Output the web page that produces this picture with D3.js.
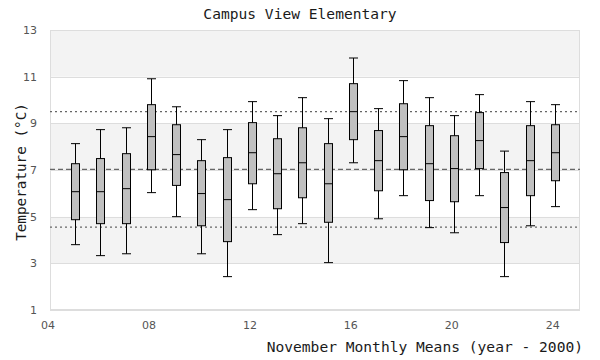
<!DOCTYPE html>
<html><head><meta charset="utf-8">
<script src="https://cdn.jsdelivr.net/npm/d3@7"></script>
<style>body{margin:0;background:#fff}svg{display:block}</style>
</head><body><svg id="c" width="600" height="360"></svg>
<script>
const years = [5,6,7,8,9,10,11,12,13,14,15,16,17,18,19,20,21,22,23,24];
const whiskerLow  = [3.80,3.33,3.41,6.03,5.00,3.41,2.43,5.30,4.23,4.70,3.03,7.31,4.91,5.90,4.53,4.31,5.90,2.43,4.61,5.43];
const q1          = [4.87,4.70,4.70,7.01,6.34,4.61,3.93,6.41,5.34,5.81,4.76,8.30,6.11,7.01,5.69,5.64,7.06,3.89,5.90,6.54];
const median      = [6.07,6.07,6.20,8.43,7.66,5.99,5.73,7.74,6.84,7.31,6.41,9.50,7.40,8.43,7.27,7.06,8.26,5.39,7.40,7.74];
const q3          = [7.27,7.49,7.70,9.80,8.94,7.40,7.53,9.03,8.34,8.81,8.13,10.70,8.69,9.84,8.90,8.47,9.46,6.89,8.90,8.94];
const whiskerHigh = [8.13,8.73,8.81,10.91,9.71,8.30,8.73,9.93,9.33,10.10,9.20,11.80,9.63,10.83,10.10,9.33,10.23,7.81,9.93,9.80];
const meanLine = 7.03, upperLine = 9.5, lowerLine = 4.55;
const xTicks = [4,8,12,16,20,24];
const yTicks = [1,3,5,7,9,11,13];
const title = "Campus View Elementary";
const xTitle = "November Monthly Means (year - 2000)";
const yTitle = "Temperature (°C)";

const svg = d3.select("#c");
const L=50,R=580,T=30,B=310;
const x = d3.scaleLinear().domain([4,25]).range([L,R]);
const y = d3.scaleLinear().domain([1,13]).range([B,T]);
const mono = "'DejaVu Sans Mono', monospace";
const sans = "'DejaVu Sans', sans-serif";

// bands
for (let i=0;i<yTicks.length-1;i++){
  const a=yTicks[i], b=yTicks[i+1];
  svg.append("rect").attr("x",L).attr("width",R-L)
    .attr("y",y(b)).attr("height",y(a)-y(b))
    .attr("fill", i%2===0 ? "#ffffff" : "#f3f3f3");
}
// gridlines
svg.append("g").selectAll("line").data(yTicks).join("line")
  .attr("x1",L).attr("x2",R).attr("y1",d=>Math.round(y(d))+0.5).attr("y2",d=>Math.round(y(d))+0.5)
  .attr("stroke","#dddddd");
svg.append("rect").attr("x",L+0.5).attr("y",T+0.5).attr("width",R-L-1).attr("height",B-T-1)
  .attr("fill","none").attr("stroke","#dddddd");

// reference lines
[[upperLine,"2,3"],[meanLine,"5,3"],[lowerLine,"2,3"]].forEach(([v,d])=>{
  svg.append("line").attr("x1",L).attr("x2",R).attr("y1",y(v)).attr("y2",y(v))
    .attr("stroke","#666").attr("stroke-width",1.2).attr("stroke-dasharray",d);
});

// boxes
const bw=8, cw=8;
const g = svg.append("g");
years.forEach((yr,i)=>{
  const cx = Math.round(x(yr))+0.5;
  g.append("line").attr("x1",cx).attr("x2",cx).attr("y1",y(whiskerHigh[i])).attr("y2",y(whiskerLow[i])).attr("stroke","#000");
  g.append("line").attr("x1",cx-cw/2-0.5).attr("x2",cx+cw/2+0.5).attr("y1",y(whiskerHigh[i])).attr("y2",y(whiskerHigh[i])).attr("stroke","#000");
  g.append("line").attr("x1",cx-cw/2-0.5).attr("x2",cx+cw/2+0.5).attr("y1",y(whiskerLow[i])).attr("y2",y(whiskerLow[i])).attr("stroke","#000");
  g.append("rect").attr("x",cx-bw/2).attr("width",bw).attr("y",y(q3[i])).attr("height",y(q1[i])-y(q3[i]))
    .attr("fill","#c0c0c0").attr("stroke","#000");
  g.append("line").attr("x1",cx-bw/2).attr("x2",cx+bw/2).attr("y1",y(median[i])).attr("y2",y(median[i])).attr("stroke","#000");
});

// tick labels
svg.append("g").selectAll("text").data(yTicks).join("text")
  .attr("x",37).attr("y",d=>y(d)).attr("dy","0.35em").attr("text-anchor","end")
  .attr("font-family",sans).attr("font-size",11).attr("fill","#555").text(d=>d);
svg.append("g").selectAll("text").data(xTicks).join("text")
  .attr("x",d=>x(d)-2).attr("y",329).attr("text-anchor","middle")
  .attr("font-family",sans).attr("font-size",11).attr("fill","#555").text(d=>d3.format("02d")(d));

// titles
svg.append("text").attr("x",300).attr("y",19).attr("text-anchor","middle")
  .attr("font-family",mono).attr("font-size",14.6).attr("fill","#1a1a1a").text(title);
svg.append("text").attr("x",583).attr("y",352).attr("text-anchor","end")
  .attr("font-family",mono).attr("font-size",14.6).attr("fill","#1a1a1a").text(xTitle);
svg.append("text").attr("transform","translate(26,172) rotate(-90)").attr("text-anchor","middle")
  .attr("font-family",mono).attr("font-size",14.3).attr("fill","#1a1a1a").text(yTitle);
</script></body></html>
